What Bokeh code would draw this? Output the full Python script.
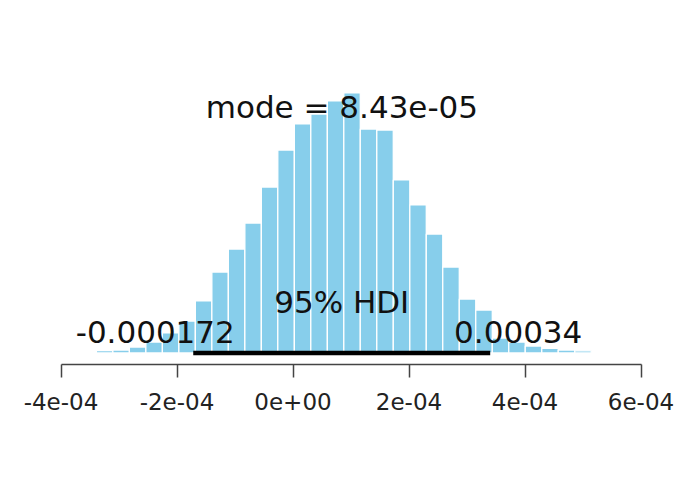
from bokeh.plotting import figure
from bokeh.models import Range1d, FixedTicker
from bokeh.embed import file_html
from bokeh.resources import INLINE
from bokeh.core.properties import value

# ---- data ----
bin_edges = [-3.390e-4, -3.106e-4, -2.821e-4, -2.537e-4, -2.252e-4, -1.968e-4,
             -1.684e-4, -1.399e-4, -1.115e-4, -0.830e-4, -0.546e-4, -0.262e-4,
             0.023e-4, 0.307e-4, 0.592e-4, 0.876e-4, 1.160e-4, 1.445e-4,
             1.729e-4, 2.014e-4, 2.298e-4, 2.582e-4, 2.867e-4, 3.151e-4,
             3.436e-4, 3.720e-4, 4.004e-4, 4.289e-4, 4.573e-4, 4.858e-4, 5.142e-4]
density = [30, 36, 73, 133, 243, 388, 631, 982, 1261, 1576, 2013, 2461, 2777,
           2898, 3056, 3153, 2716, 2704, 2098, 1795, 1443, 1043, 655, 521, 182,
           133, 85, 55, 36, 26]
hdi_low = -0.000172
hdi_high = 0.00034
hdi_low_label = "-0.000172"
hdi_high_label = "0.00034"
hdi_label = "95% HDI"
mode_val = 8.43e-05
mode_label = "mode = 8.43e-05"
tick_values = [-4e-4, -2e-4, 0.0, 2e-4, 4e-4, 6e-4]
tick_labels = ["-4e-04", "-2e-04", "0e+00", "2e-04", "4e-04", "6e-04"]

# ---- layout ----
W, H = 679, 478
frame_h = 364
BOTTOM = H - frame_h
px_per_unit_x = 116.0 / 2e-4
zero_px = 292.5
dens_per_px = 12.125
base_from_bottom = 11.5
shift = -12   # text baseline correction (px)

x0 = -zero_px / px_per_unit_x
x1 = (W - zero_px) / px_per_unit_x
y0 = -base_from_bottom * dens_per_px
y1 = (frame_h - base_from_bottom) * dens_per_px

p = figure(width=W, height=H, output_backend="svg", toolbar_location=None,
           x_range=Range1d(x0, x1), y_range=Range1d(y0, y1),
           y_axis_location=None, min_border_left=0, min_border_right=0,
           min_border_top=0, min_border_bottom=BOTTOM)
p.outline_line_color = None
p.xgrid.visible = False
p.ygrid.visible = False
p.background_fill_color = "white"
p.border_fill_color = "white"

p.quad(left=bin_edges[:-1], right=bin_edges[1:], top=density, bottom=0,
       fill_color="#87CEEB", line_color="white", line_width=1.3)

p.line(x=[hdi_low, hdi_high], y=[0, 0], line_color="black", line_width=4.5)

font = value("DejaVu Sans")
big = "31px"
p.text(x=[mode_val], y=[0.9 * max(density)], text=[mode_label],
       text_font=font, text_font_size=big, text_align="center",
       text_baseline="alphabetic", y_offset=shift, text_color="#111111")
p.text(x=[(hdi_low + hdi_high) / 2], y=[0], text=[hdi_label],
       text_font=font, text_font_size=big, text_align="center",
       text_baseline="alphabetic", y_offset=-39.5 + shift, text_color="#111111")
p.text(x=[hdi_low], y=[0], text=[hdi_low_label],
       text_font=font, text_font_size=big, text_align="center",
       text_baseline="alphabetic", x_offset=-38, y_offset=-9.5 + shift,
       text_color="#111111")
p.text(x=[hdi_high], y=[0], text=[hdi_high_label],
       text_font=font, text_font_size=big, text_align="center",
       text_baseline="alphabetic", x_offset=28, y_offset=-9.5 + shift,
       text_color="#111111")

ax = p.xaxis[0]
ax.bounds = (tick_values[0], tick_values[-1])
ax.ticker = FixedTicker(ticks=tick_values)
ax.major_label_overrides = dict(zip(tick_values, tick_labels))
ax.minor_tick_line_color = None
ax.major_tick_in = 0
ax.major_tick_out = 13
ax.axis_line_color = "#444444"
ax.axis_line_width = 1.5
ax.major_tick_line_color = "#444444"
ax.major_tick_line_width = 1.5
ax.major_label_standoff = 15
ax.major_label_text_font = "DejaVu Sans"
ax.major_label_text_font_size = "23px"
ax.major_label_text_color = "#222222"

open("out.html", "w").write(file_html(p, INLINE))
